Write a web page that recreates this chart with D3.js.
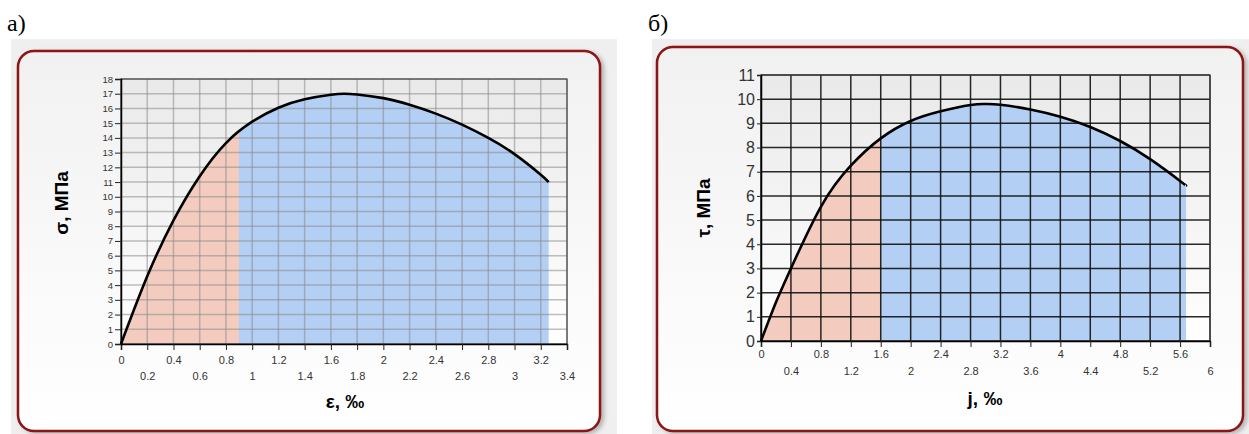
<!DOCTYPE html>
<html><head><meta charset="utf-8">
<script src="https://cdn.jsdelivr.net/npm/d3@7"></script>
<style>body{margin:0;background:#fff;}svg{display:block;}</style>
</head><body>
<script>
// ---- data ----
const epsValues   = [0, 0.2, 0.4, 0.6, 0.8, 1.0, 1.2, 1.4, 1.6, 1.7, 1.8, 2.0, 2.2, 2.4, 2.6, 2.8, 3.0, 3.2, 3.26];
const sigmaValues = [0, 4.6, 8.4, 11.4, 13.65, 15.1, 16.05, 16.62, 16.93, 17.0, 16.95, 16.7, 16.25, 15.65, 14.9, 14.0, 12.9, 11.5, 11.0];
const epsSplit = 0.9;
const epsXTicks = [0,0.2,0.4,0.6,0.8,1,1.2,1.4,1.6,1.8,2,2.2,2.4,2.6,2.8,3,3.2,3.4];
const sigmaYTicks = d3.range(0, 19, 1);

const jValues   = [0, 0.2, 0.4, 0.8, 1.2, 1.6, 2.0, 2.4, 2.8, 3.0, 3.2, 3.6, 4.0, 4.4, 4.8, 5.2, 5.6, 5.68];
const tauValues = [0, 1.6, 3.0, 5.55, 7.25, 8.38, 9.1, 9.5, 9.76, 9.8, 9.77, 9.57, 9.27, 8.85, 8.27, 7.52, 6.62, 6.42];
const jSplit = 1.6;
const jXTicks = [0,0.4,0.8,1.2,1.6,2,2.4,2.8,3.2,3.6,4,4.4,4.8,5.2,5.6,6];
const tauYTicks = d3.range(0, 12, 1);

const W = 1249, H = 434;
const svg = d3.select("body").append("svg").attr("width", W).attr("height", H);
const defs = svg.append("defs");

const bgGrad = defs.append("linearGradient").attr("id","frameGrad").attr("x1",0).attr("y1",0).attr("x2",0).attr("y2",1);
bgGrad.append("stop").attr("offset","0%").attr("stop-color","#f1f1f1");
bgGrad.append("stop").attr("offset","100%").attr("stop-color","#ffffff");
const plotGrad = defs.append("linearGradient").attr("id","plotGrad").attr("x1",0).attr("y1",0).attr("x2",0).attr("y2",1);
plotGrad.append("stop").attr("offset","0%").attr("stop-color","#e9e9e9");
plotGrad.append("stop").attr("offset","100%").attr("stop-color","#ffffff");
const sh = defs.append("filter").attr("id","shadow").attr("x","-5%").attr("y","-5%").attr("width","115%").attr("height","115%");
sh.append("feDropShadow").attr("dx",3).attr("dy",2).attr("stdDeviation",2).attr("flood-color","#000").attr("flood-opacity",0.25);

function panel(o) {
  svg.append("rect").attr("x",o.bg[0]).attr("y",o.bg[1]).attr("width",o.bg[2]).attr("height",o.bg[3]).attr("fill","#efefef");
  svg.append("rect").attr("x",o.frame[0]).attr("y",o.frame[1]).attr("width",o.frame[2]).attr("height",o.frame[3])
    .attr("rx",16).attr("ry",16).attr("fill","url(#frameGrad)").attr("stroke","#8c1212").attr("stroke-width",2.5)
    .attr("filter","url(#shadow)");
  svg.append("text").attr("x",o.letter[0]).attr("y",o.letter[1]).text(o.letterText)
    .attr("font-family","Liberation Serif, serif").attr("font-size",24).attr("fill","#000");

  const x = d3.scaleLinear().domain(o.xDomain).range([o.left, o.right]);
  const y = d3.scaleLinear().domain(o.yDomain).range([o.bottom, o.top]);
  const g = svg.append("g");
  g.append("rect").attr("x",o.left).attr("y",o.top).attr("width",o.right-o.left).attr("height",o.bottom-o.top).attr("fill","url(#plotGrad)");

  const pts = o.xs.map((v,i)=>[v,o.ys[i]]);
  const curve = d3.curveNatural;
  const area = d3.area().x(d=>x(d[0])).y0(y(0)).y1(d=>y(d[1])).curve(curve);
  const line = d3.line().x(d=>x(d[0])).y(d=>y(d[1])).curve(curve);
  const cid = o.id;
  defs.append("clipPath").attr("id",cid+"a").append("rect").attr("x",o.left).attr("y",o.top).attr("width",x(o.split)-o.left).attr("height",o.bottom-o.top);
  defs.append("clipPath").attr("id",cid+"b").append("rect").attr("x",x(o.split)).attr("y",o.top).attr("width",o.right-x(o.split)).attr("height",o.bottom-o.top);
  g.append("path").datum(pts).attr("d",area).attr("fill","#f3ccbf").attr("clip-path",`url(#${cid}a)`);
  g.append("path").datum(pts).attr("d",area).attr("fill","#b3cff4").attr("clip-path",`url(#${cid}b)`);

  g.append("g").selectAll("line").data(o.xTicks).join("line")
    .attr("x1",d=>x(d)).attr("x2",d=>x(d)).attr("y1",o.top).attr("y2",o.bottom)
    .attr("stroke",o.gridColor).attr("stroke-width",o.gridWidth).attr("stroke-opacity",o.gridOpacity);
  g.append("g").selectAll("line").data(o.yTicks).join("line")
    .attr("x1",o.left).attr("x2",o.right).attr("y1",d=>y(d)).attr("y2",d=>y(d))
    .attr("stroke",o.gridColor).attr("stroke-width",o.gridWidth).attr("stroke-opacity",o.gridOpacity);
  g.append("rect").attr("x",o.left).attr("y",o.top).attr("width",o.right-o.left).attr("height",o.bottom-o.top)
    .attr("fill","none").attr("stroke","#444").attr("stroke-width",1.2);

  const ax = g.append("g").attr("transform",`translate(0,${o.bottom})`)
    .call(d3.axisBottom(x).tickValues(o.xTicks).tickSize(6).tickPadding(o.xPad).tickFormat(d=>String(d)));
  ax.select(".domain").attr("stroke","#000").attr("stroke-width",1.5);
  ax.selectAll(".tick line").attr("stroke","#222");
  ax.selectAll(".tick text").attr("font-family","Liberation Sans, Arial, sans-serif").attr("font-size",o.xFont).attr("fill","#333")
    .attr("dy",(d,i)=> i%2===0 ? o.xRow1 : o.xRow2);
  const ay = g.append("g").attr("transform",`translate(${o.left},0)`)
    .call(d3.axisLeft(y).tickValues(o.yTicks).tickSize(o.yTickSize).tickPadding(2).tickFormat(d3.format("d")));
  ay.select(".domain").attr("stroke","#000").attr("stroke-width",1.5);
  ay.selectAll(".tick line").attr("stroke","#222");
  ay.selectAll(".tick text").attr("font-family","Liberation Sans, Arial, sans-serif").attr("font-size",o.yFont).attr("fill","#333");

  g.append("path").datum(pts).attr("d",line).attr("fill","none").attr("stroke","#000").attr("stroke-width",2.6);

  svg.append("text").attr("x",o.xTitle[0]).attr("y",o.xTitle[1]).attr("text-anchor","middle")
    .attr("font-family","Liberation Sans, Arial, sans-serif").attr("font-weight","bold").attr("font-size",19).text(o.xTitleText);
  svg.append("text").attr("transform",`translate(${o.yTitle[0]},${o.yTitle[1]}) rotate(-90)`).attr("text-anchor","middle")
    .attr("font-family","Liberation Sans, Arial, sans-serif").attr("font-weight","bold").attr("font-size",19).text(o.yTitleText);
}

panel({id:"pa", bg:[11,39,606,395], frame:[18,51,582,380], letter:[7,31], letterText:"а)",
  left:121, right:567, top:79, bottom:344, xDomain:[0,3.4], yDomain:[0,18],
  xs:epsValues, ys:sigmaValues, split:epsSplit, xTicks:epsXTicks, yTicks:sigmaYTicks,
  gridColor:"#8a8a8a", gridWidth:1.5, gridOpacity:0.55, xFont:11, yFont:9.5, yTickSize:6,
  xPad:6, xRow1:"0.71em", xRow2:"2.15em",
  xTitle:[345,408], xTitleText:"ε, ‰", yTitle:[68,203], yTitleText:"σ, МПа"});

panel({id:"pb", bg:[652,39,597,395], frame:[657,47,586,384], letter:[648,31], letterText:"б)",
  left:761, right:1210, top:75, bottom:341, xDomain:[0,6], yDomain:[0,11],
  xs:jValues, ys:tauValues, split:jSplit, xTicks:jXTicks, yTicks:tauYTicks,
  gridColor:"#111", gridWidth:1.5, gridOpacity:0.9, xFont:11, yFont:16, yTickSize:4,
  xPad:3, xRow1:"0.71em", xRow2:"2.25em",
  xTitle:[985,405], xTitleText:"j, ‰", yTitle:[710,208], yTitleText:"τ, МПа"});
</script>
</body></html>
